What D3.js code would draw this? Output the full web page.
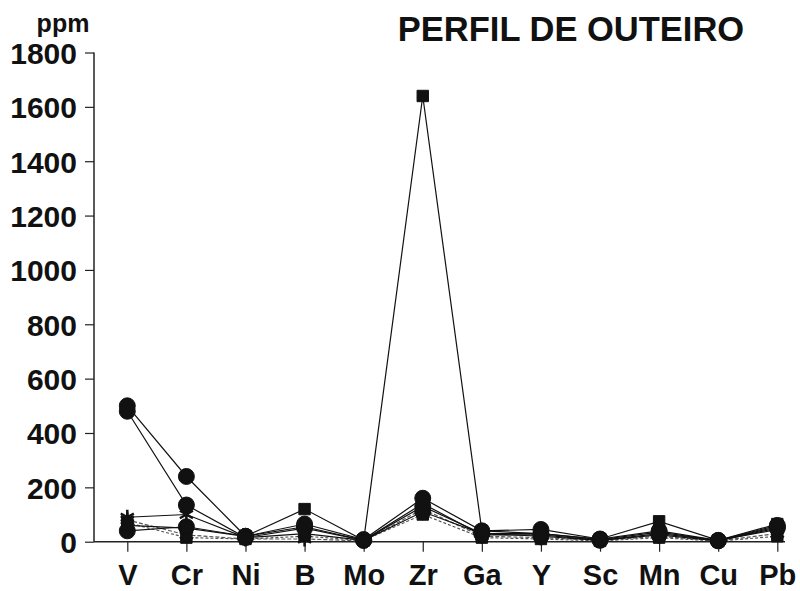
<!DOCTYPE html>
<html><head><meta charset="utf-8">
<script src="https://cdn.jsdelivr.net/npm/d3@7"></script>
<style>body{margin:0;background:#fff}svg{display:block}text{font-family:"Liberation Sans",Arial,sans-serif;font-weight:bold;fill:#111}</style>
</head><body><svg id="c" width="800" height="591"></svg>
<script>
const elements = ["V","Cr","Ni","B","Mo","Zr","Ga","Y","Sc","Mn","Cu","Pb"];
const yTicks = [0,200,400,600,800,1000,1200,1400,1600,1800];
const s1 = [60,50,20,120,5,1640,40,30,10,75,5,65];
const s2 = [500,240,20,65,8,160,40,45,10,40,5,60];
const s3 = [480,135,15,50,5,130,30,30,8,35,4,55];
const s4 = [90,100,15,30,5,140,25,25,5,30,5,45];
const s5 = [40,55,20,55,5,110,30,20,5,25,3,50];
const s6 = [80,25,10,10,3,120,20,15,5,20,3,30];
const s7 = [70,15,10,20,5,100,15,10,3,15,2,20];
const seriesList = [
  {v:s7, m:"square", dash:"3,2"},
  {v:s6, m:"star", dash:"4,2"},
  {v:s5, m:"circle", dash:null},
  {v:s4, m:"star", dash:null},
  {v:s3, m:"circle", dash:null},
  {v:s2, m:"circle", dash:null},
  {v:s1, m:"square", dash:null}
];
const svg = d3.select("#c");
const x = d3.scalePoint().domain(elements).range([127.3,777.3]);
const y = d3.scaleLinear().domain([0,1800]).range([541.7,52.5]);
const ax = 94;
// y axis
const ya = svg.append("g").attr("transform",`translate(${ax},0)`)
  .call(d3.axisLeft(y).tickValues(yTicks).tickSize(9).tickPadding(8).tickFormat(d3.format("d")));
ya.select(".domain").remove();
ya.selectAll("line").attr("stroke","#222").attr("stroke-width",1.2);
ya.selectAll("text").style("font-size","30px").attr("dy","0.36em");
svg.append("line").attr("x1",ax).attr("x2",ax).attr("y1",y(1800)).attr("y2",y(0)).attr("stroke","#222").attr("stroke-width",1.5);
// x axis
const xa = svg.append("g").attr("transform",`translate(0,${y(0)})`)
  .call(d3.axisBottom(x).tickSize(10).tickPadding(13));
xa.select(".domain").remove();
xa.selectAll("line").attr("stroke","#222").attr("stroke-width",1.2);
xa.selectAll("text").style("font-size","29px").attr("dy","0.71em");
svg.append("line").attr("x1",ax).attr("x2",785).attr("y1",y(0)).attr("y2",y(0)).attr("stroke","#222").attr("stroke-width",1.5);
// lines
const line = d3.line().x((d,i)=>x(elements[i])).y(d=>y(d));
seriesList.forEach(s=>{
  svg.append("path").datum(s.v).attr("d",line).attr("fill","none")
    .attr("stroke",s.dash?"#555":"#111").attr("stroke-width",1.2)
    .attr("stroke-dasharray",s.dash);
});
// markers
const sym = {circle:d3.symbolCircle, square:d3.symbolSquare, star:d3.symbolAsterisk};
const size = {circle:200, square:130, star:160};
seriesList.forEach(s=>{
  svg.append("g").selectAll("path").data(s.v).join("path")
    .attr("transform",(d,i)=>`translate(${x(elements[i])},${y(d)})`)
    .attr("d",d3.symbol().type(sym[s.m]).size(size[s.m]))
    .attr("fill","#111").attr("stroke","#111").attr("stroke-width",s.m==="star"?2.5:1);
});
// titles
svg.append("text").attr("x",571).attr("y",41).attr("text-anchor","middle").style("font-size","34.5px").text("PERFIL DE OUTEIRO");
svg.append("text").attr("x",63).attr("y",32).attr("text-anchor","middle").style("font-size","25px").text("ppm");
</script></body></html>
